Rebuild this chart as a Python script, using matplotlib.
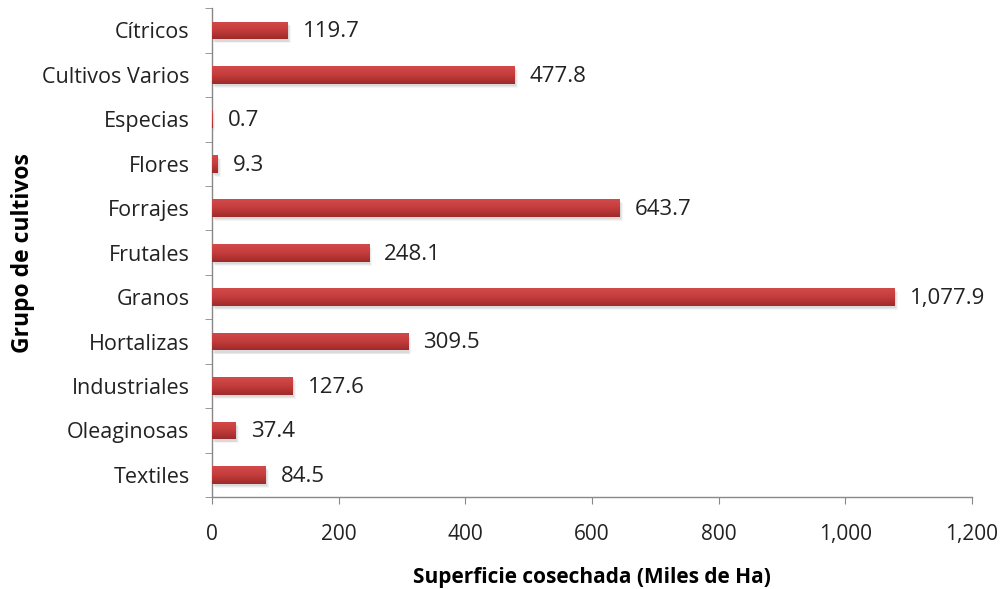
import matplotlib
matplotlib.use("Agg")
import matplotlib.pyplot as plt
import numpy as np
from matplotlib.ticker import FuncFormatter, FixedLocator
from matplotlib.colors import LinearSegmentedColormap

categories = ["Cítricos", "Cultivos Varios", "Especias", "Flores", "Forrajes", "Frutales",
              "Granos", "Hortalizas", "Industriales", "Oleaginosas", "Textiles"]
values = [119.7, 477.8, 0.7, 9.3, 643.7, 248.1, 1077.9, 309.5, 127.6, 37.4, 84.5]
labels = ["119.7", "477.8", "0.7", "9.3", "643.7", "248.1", "1,077.9", "309.5", "127.6", "37.4", "84.5"]
x_ticks = [0, 200, 400, 600, 800, 1000, 1200]

plt.rcParams['font.family'] = ['Open Sans', 'DejaVu Sans']

fig = plt.figure(figsize=(10.04, 5.89), dpi=100)
ax = fig.add_axes([0.211, 0.156, 0.757, 0.830])

n = len(categories)
y = np.arange(n)
h = 0.4

# soft shadow
for k, a in enumerate([0.06, 0.05, 0.04]):
    ax.barh(y + 0.05 + 0.02 * k, values, height=h, left=2 + 1.5 * k, color="#000000",
            alpha=a, zorder=1, linewidth=0)
bars = ax.barh(y, values, height=h, color="#C0393B", zorder=2, linewidth=0)

grad = np.linspace(0, 1, 64).reshape(-1, 1)
cmap = LinearSegmentedColormap.from_list("g", ["#D24A4A", "#C43C3C", "#9E2A2A"])
for b in bars:
    x0, y0 = b.get_x(), b.get_y()
    w, hh = b.get_width(), b.get_height()
    im = ax.imshow(grad, extent=(x0, x0 + w, y0 + hh, y0), aspect='auto', cmap=cmap,
                   zorder=3, interpolation='bilinear')
    im.set_clip_path(b)

for yi, v, lab in zip(y, values, labels):
    ax.annotate(lab, xy=(v, yi), xytext=(11, -1), textcoords='offset points',
                va='center', ha='left', fontsize=16, color="#222222")

ax.set_xlim(0, 1200)
ax.set_ylim(n - 0.5, -0.5)
ax.set_xticks(x_ticks)
ax.xaxis.set_major_formatter(FuncFormatter(lambda v, p: f"{int(v):,}"))
ax.set_yticks(y)
ax.set_yticklabels(categories, fontsize=15.5, color="#222222")
ax.yaxis.set_minor_locator(FixedLocator(np.arange(-0.5, n, 1)))
ax.tick_params(axis='y', which='major', length=0, pad=16)
ax.tick_params(axis='y', which='minor', length=5, color="#888888", direction='out')
ax.tick_params(axis='x', length=5, color="#888888", direction='out', labelsize=15,
               labelcolor="#222222", pad=14)

for s in ["top", "right"]:
    ax.spines[s].set_visible(False)
for s in ["left", "bottom"]:
    ax.spines[s].set_color("#888888")
    ax.spines[s].set_linewidth(1)

ax.set_xlabel("Superficie cosechada (Miles de Ha)", fontsize=15, fontweight='bold', labelpad=16)
ax.set_ylabel("Grupo de cultivos", fontsize=16.5, fontweight='bold', labelpad=5)

fig.savefig("out.png", dpi=100)
